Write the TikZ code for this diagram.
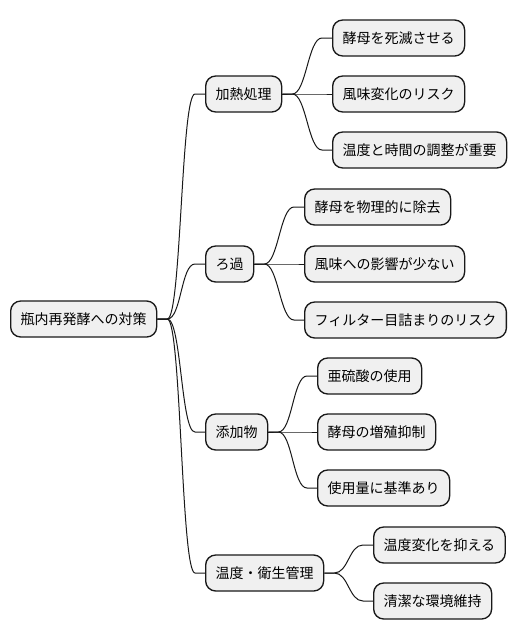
\documentclass[tikz,border=0pt]{standalone}
\usepackage{fontspec}
\setmainfont{Noto Sans CJK JP}
\usetikzlibrary{calc}

\tikzset{
  topic/.style={draw=black!90, fill=black!6, line width=1pt, rounded corners=7.5pt,
    minimum height=27pt, inner xsep=7.5pt, anchor=west,
    font=\fontsize{10.5}{12}\selectfont},
  link/.style={line width=0.75pt, draw=black!90},
}

\begin{document}
\begin{tikzpicture}[x=0.75pt, y=-0.75pt]
\useasboundingbox (0,0) rectangle (516,640);

\node[topic] (root) at (10,319) {瓶内再発酵への対策};

\node[topic] (heat) at (205,94) {加熱処理};
\node[topic] (filt) at (205,264) {ろ過};
\node[topic] (addv) at (205,432) {添加物};
\node[topic] (hyg) at (205,573) {温度・衛生管理};

\node[topic] (heat1) at (332,38) {酵母を死滅させる};
\node[topic] (heat2) at (332,94) {風味変化のリスク};
\node[topic] (heat3) at (332,150) {温度と時間の調整が重要};

\node[topic] (filt1) at (304,207) {酵母を物理的に除去};
\node[topic] (filt2) at (304,264) {風味への影響が少ない};
\node[topic] (filt3) at (304,320) {フィルター目詰まりのリスク};

\node[topic] (addv1) at (317,376) {亜硫酸の使用};
\node[topic] (addv2) at (317,432) {酵母の増殖抑制};
\node[topic] (addv3) at (317,488) {使用量に基準あり};

\node[topic] (hyg1) at (373,545) {温度変化を抑える};
\node[topic] (hyg2) at (373,601) {清潔な環境維持};

% branches
\foreach \p/\c in {root/heat, root/filt, root/addv, root/hyg,
    heat/heat1, heat/heat2, heat/heat3,
    filt/filt1, filt/filt2, filt/filt3,
    addv/addv1, addv/addv2, addv/addv3,
    hyg/hyg1, hyg/hyg2}
  \draw[link] (\p.east) -- ++(10,0) .. controls +(14,0) and +(-14,0) .. ([xshift=-7.5pt]\c.west) -- (\c.west);
\end{tikzpicture}
\end{document}
